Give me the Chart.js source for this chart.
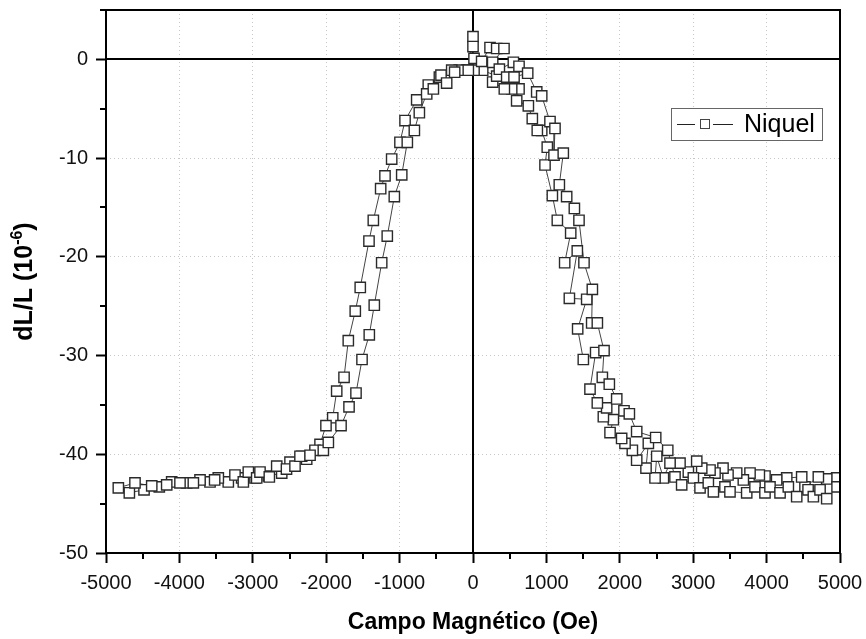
<!DOCTYPE html>
<html>
<head>
<meta charset="utf-8">
<script src="https://cdn.jsdelivr.net/npm/chart.js@4.4.0/dist/chart.umd.min.js"></script>
<style>
  html, body { margin: 0; padding: 0; background: #fff; }
  #wrap { width: 866px; height: 639px; position: relative; }
</style>
</head>
<body>
<div id="wrap"><canvas id="c" width="866" height="639"></canvas></div>
<script>
// Magnetostriction loop of a nickel sample: field sweep down, then back up.
const seriesName = 'Niquel';
const xTitle = 'Campo Magnético (Oe)';
const yTitle = ['dL/L (10', '-6', ')'];   // base text, superscript, closing

// Sweep from +5000 Oe down to -5000 Oe
const fieldDown = [4955, 4819, 4705, 4523, 4478, 4274, 4137, 3978, 3901, 3774, 3683, 3592, 3474, 3406, 3297, 3229,
  3116, 3048, 2934, 2820, 2684, 2594, 2503, 2480, 2357, 2389, 2230, 2171, 2071, 2025, 1867, 1912, 1776, 1821, 1694,
  1594, 1671, 1503, 1426, 1549, 1313, 1421, 1249, 1331, 1149, 1081, 981, 1012, 936, 876, 808, 754, 595, 627, 527,
  427, 268, 323, 132, 14, -86, -187, -290, -458, -609, -767, -926, -995, -1108, -1199, -1258, -1358, -1417, -1536,
  -1604, -1699, -1757, -1857, -1911, -2003, -2084, -2153, -2266, -2334, -2493, -2606, -2788, -2970, -3152, -3334,
  -3470, -3583, -3719, -3901, -4105, -4274, -4482, -4682, -4832];
const strainDown = [-42.4, -42.5, -42.3, -43.3, -42.3, -42.4, -42.6, -42.2, -42.1, -41.9, -42.6, -41.9, -42.1, -41.4, -41.9, -41.6,
  -41.4, -40.7, -41.8, -40.9, -40.9, -42.4, -40.2, -42.4, -41.4, -38.9, -40.6, -39.6, -38.9, -38.4, -37.8, -36.5, -36.2, -35.3, -34.8,
  -33.4, -29.7, -30.4, -27.3, -24.3, -24.2, -19.4, -20.6, -17.6, -16.3, -13.8, -10.7, -8.9, -7.2, -7.2, -6.0, -4.7, -4.2, -3.0, -3.0,
  -3.0, -2.3, -1.7, -1.1, -1.1, -1.1, -1.1, -1.1, -1.8, -2.6, -4.1, -6.2, -8.4, -10.1, -11.8, -13.1, -16.3, -18.4, -23.1,
  -25.5, -28.5, -32.2, -33.6, -36.3, -37.1, -39.0, -39.6, -40.5, -40.2, -40.8, -41.9, -42.2, -42.4, -42.4, -42.8,
  -42.4, -42.8, -42.6, -42.9, -42.8, -43.3, -43.6, -43.9, -43.4];

// Sweep from -5000 Oe back up to +5000 Oe
const fieldUp = [-4605, -4377, -4173, -3992, -3810, -3520, -3243, -3129, -3061, -2947, -2902, -2775, -2674, -2541, -2425,
  -2357, -2220, -2039, -1971, -1798, -1689, -1594, -1512, -1413, -1345, -1244, -1168, -1072, -971, -895, -799, -731,
  -631, -540, -436, -359, -250, -64, 0, 0, 14, 118, 232, 323, 422, 268, 359, 550, 627, 459, 559, 745, 868, 936, 1049,
  1117, 1104, 1230, 1176, 1276, 1381, 1444, 1512, 1626, 1617, 1694, 1785, 1762, 1857, 1958, 2057, 2130, 2230, 2489,
  2653, 2752, 2843, 3002, 3093, 3206, 3275, 3433, 3501, 3729, 3842, 3978, 4046, 4183, 4296, 4410, 4565, 4637, 4728,
  4819, 4960];
const strainUp = [-42.9, -43.2, -43.1, -42.9, -42.9, -42.6, -42.1, -42.8, -41.8, -42.4, -41.8, -42.3, -41.2, -41.5, -41.2,
  -40.2, -40.1, -39.6, -38.8, -37.1, -35.2, -33.8, -30.4, -27.9, -24.9, -20.6, -17.9, -13.9, -11.7, -8.4, -7.2, -5.4,
  -3.5, -3.0, -1.6, -2.4, -1.3, -1.1, 2.3, 1.3, 0.1, -0.2, 1.2, 1.1, 1.1, -0.3, -1.0, -0.3, -0.7, -1.8, -1.8, -1.4, -3.3, -3.7, -6.3,
  -7.0, -9.7, -9.5, -12.7, -13.9, -15.1, -16.3, -20.6, -23.3, -26.7, -26.7, -29.5, -32.2, -32.9, -34.4, -35.6, -35.9, -37.7, -38.3,
  -39.6, -42.3, -43.1, -42.4, -43.4, -42.9, -43.8, -43.3, -43.8, -43.9, -43.3, -43.9, -43.3, -43.9, -43.3, -44.3, -43.6, -44.3, -43.6,
  -44.5, -43.3];

const xTicks = [-5000, -4000, -3000, -2000, -1000, 0, 1000, 2000, 3000, 4000, 5000];
const yTicks = [-50, -40, -30, -20, -10, 0];
const xMinorTicks = [-4500, -3500, -2500, -1500, -500, 500, 1500, 2500, 3500, 4500];
const yMinorTicks = [-45, -35, -25, -15, -5, 5];

const loop = fieldDown.map((x, i) => ({ x, y: strainDown[i] }))
  .concat(fieldUp.map((x, i) => ({ x, y: strainUp[i] })));

const FONT = "'Liberation Sans', Arial, sans-serif";

// Zero axes through the origin, under the markers
const zeroLines = {
  id: 'zeroLines',
  beforeDatasetsDraw(chart) {
    const { ctx, chartArea: a, scales: { x, y } } = chart;
    ctx.save();
    ctx.strokeStyle = '#000';
    ctx.lineWidth = 2;
    ctx.beginPath();
    const x0 = Math.round(x.getPixelForValue(0));
    const y0 = Math.round(y.getPixelForValue(0));
    ctx.moveTo(x0, a.top); ctx.lineTo(x0, a.bottom);
    ctx.moveTo(a.left, y0); ctx.lineTo(a.right, y0);
    ctx.stroke();
    ctx.restore();
  }
};

// Plot frame, short minor ticks and the rotated y title with its superscript
const frame = {
  id: 'frame',
  afterDatasetsDraw(chart) {
    const { ctx, chartArea: a, scales: { x, y } } = chart;
    ctx.save();
    ctx.strokeStyle = '#000';
    ctx.lineWidth = 2;
    ctx.strokeRect(a.left, a.top, a.right - a.left, a.bottom - a.top);
    ctx.beginPath();
    xMinorTicks.forEach(v => {
      const px = Math.round(x.getPixelForValue(v));
      ctx.moveTo(px, a.bottom); ctx.lineTo(px, a.bottom + 6);
    });
    yMinorTicks.forEach(v => {
      const py = Math.round(y.getPixelForValue(v));
      ctx.moveTo(a.left, py); ctx.lineTo(a.left - 6, py);
    });
    ctx.stroke();

    // y title
    const big = 'bold 25px ' + FONT, small = 'bold 16px ' + FONT;
    ctx.font = big; const w1 = ctx.measureText(yTitle[0]).width, w3 = ctx.measureText(yTitle[2]).width;
    ctx.font = small; const w2 = ctx.measureText(yTitle[1]).width;
    const total = w1 + w2 + w3;
    ctx.translate(23, (a.top + a.bottom) / 2);
    ctx.rotate(-Math.PI / 2);
    ctx.fillStyle = '#000';
    ctx.textBaseline = 'alphabetic';
    let cx = -total / 2;
    const base = 9;
    ctx.font = big; ctx.fillText(yTitle[0], cx, base); cx += w1;
    ctx.font = small; ctx.fillText(yTitle[1], cx, base - 10); cx += w2;
    ctx.font = big; ctx.fillText(yTitle[2], cx, base);
    ctx.restore();
  }
};

// Boxed legend inside the plot
const legendBox = {
  id: 'legendBox',
  afterDraw(chart) {
    const { ctx } = chart;
    const bx = 671, by = 108, bw = 151, bh = 32;
    ctx.save();
    ctx.fillStyle = '#fff';
    ctx.fillRect(bx, by, bw, bh);
    ctx.strokeStyle = '#666';
    ctx.lineWidth = 1;
    ctx.strokeRect(bx + 0.5, by + 0.5, bw, bh);
    const cy = by + bh / 2 + 0.5;
    ctx.strokeStyle = '#222';
    ctx.beginPath();
    ctx.moveTo(bx + 6, cy); ctx.lineTo(bx + 24, cy);
    ctx.moveTo(bx + 42, cy); ctx.lineTo(bx + 62, cy);
    ctx.stroke();
    ctx.strokeStyle = '#444';
    ctx.strokeRect(bx + 29.5, cy - 5, 9, 9);
    ctx.fillStyle = '#000';
    ctx.font = '25px ' + FONT;
    ctx.textBaseline = 'middle';
    ctx.fillText(seriesName, bx + 73, cy + 1);
    ctx.restore();
  }
};

new Chart(document.getElementById('c'), {
  type: 'scatter',
  data: {
    datasets: [{
      label: seriesName,
      data: loop,
      showLine: true,
      borderColor: '#444',
      borderWidth: 1,
      pointStyle: 'rect',
      pointRadius: 7.3,
      pointHoverRadius: 7.3,
      pointBackgroundColor: '#fff',
      pointBorderColor: '#2a2a2a',
      pointBorderWidth: 1.4,
      clip: 0
    }]
  },
  options: {
    responsive: false,
    animation: false,
    devicePixelRatio: 1,
    layout: { padding: { left: 0, right: 26, top: 10, bottom: 0 } },
    plugins: { legend: { display: false }, tooltip: { enabled: false } },
    scales: {
      x: {
        type: 'linear',
        min: -5000, max: 5000,
        afterBuildTicks: s => { s.ticks = xTicks.map(v => ({ value: v })); },
        afterFit: s => { s.height = 86; s.paddingLeft = 0; s.paddingRight = 0; },
        ticks: { font: { family: FONT, size: 20 }, color: '#111', padding: 8, maxRotation: 0, autoSkip: false,
          callback: v => String(v) },
        grid: { color: '#c8c8c8', lineWidth: 1, tickLength: 10, tickColor: '#000', tickWidth: 2 },
        border: { display: false, dash: [1, 3] },
        title: { display: true, text: xTitle, color: '#000',
          font: { family: FONT, size: 23, weight: 'bold' }, padding: { top: 0, bottom: 3 } }
      },
      y: {
        type: 'linear',
        min: -50, max: 5,
        afterBuildTicks: s => { s.ticks = yTicks.map(v => ({ value: v })); },
        afterFit: s => { s.width = 106; s.paddingTop = 0; s.paddingBottom = 0; },
        ticks: { font: { family: FONT, size: 20 }, color: '#111', padding: 8, autoSkip: false,
          callback: v => String(v) },
        grid: { color: '#c8c8c8', lineWidth: 1, tickLength: 10, tickColor: '#000', tickWidth: 2 },
        border: { display: false, dash: [1, 3] },
        title: { display: false }
      }
    }
  },
  plugins: [zeroLines, frame, legendBox]
});
</script>
</body>
</html>
